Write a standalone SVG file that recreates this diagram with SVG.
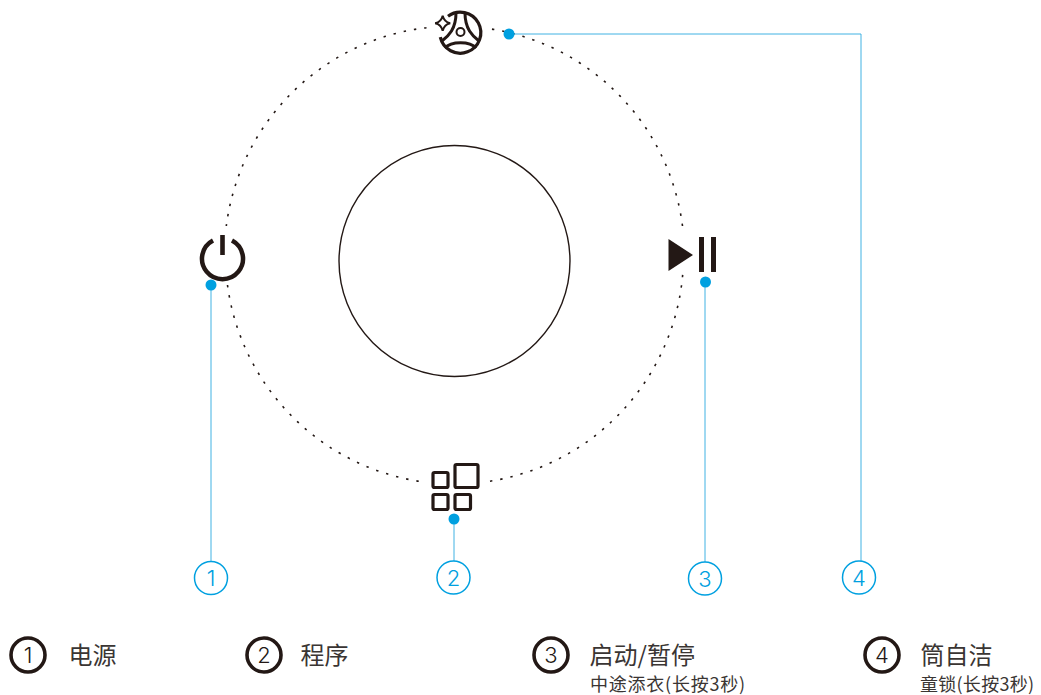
<svg xmlns="http://www.w3.org/2000/svg" width="1041" height="695" viewBox="0 0 1041 695">
<style>
.dots{fill:none;stroke:#231815;stroke-width:1.6;stroke-dasharray:2.4 8}
.k{fill:none;stroke:#231815}
.lead{fill:none;stroke:#2aa9e0;stroke-width:.9}
.dot{fill:#00a0e0}
.ring{fill:#fff;stroke:#00a0e0;stroke-width:1.5}
.num{font-family:"Inter","Noto Sans",sans-serif;font-weight:300;text-anchor:middle}
.bn{font-size:22px;fill:#00a0e0}
.ln{font-size:22px;fill:#231815}
.lr{fill:#fff;stroke:#231815;stroke-width:3.6}
.t{font-family:"Noto Sans CJK SC","Noto Sans",sans-serif;font-weight:400;fill:#3a3533;font-size:24px}
.s{font-family:"Noto Sans CJK SC","Noto Sans",sans-serif;font-weight:400;fill:#3a3533;font-size:18px}
</style>
<g id="orbit">
<path class="dots" d="M426.500 27.700A229 229 0 0 0 226.300 226"/>
<path class="dots" d="M227.500 285A229 229 0 0 0 424 482"/>
<path class="dots" d="M490 481.200A229 229 0 0 0 682.900 272"/>
<path class="dots" d="M682.500 226A229 229 0 0 0 490 28.800"/>
<circle class="k" cx="454.500" cy="261" r="115.500" stroke-width="1.400"/>
</g>
<g id="connectors">
<path class="lead" d="M211 285V561"/>
<path class="lead" d="M454 519V561"/>
<path class="lead" d="M705 282V562"/>
<path class="lead" d="M509 34H861V562"/>
</g>
<g id="icon-power">
<path class="k" stroke-width="4.500" d="M213 240.500A20.500 20.500 0 1 0 232 240.500"/>
<rect x="220.200" y="235" width="4.600" height="20" fill="#231815"/>
<circle class="dot" cx="211" cy="285" r="5.500"/>
</g>
<g id="icon-program">
<g class="k" stroke-width="3.200">
<rect x="433" y="472.500" width="15" height="15" rx="1.500"/>
<rect x="455" y="464.500" width="23" height="23" rx="1.500"/>
<rect x="433" y="494.500" width="15" height="15" rx="1.500"/>
<rect x="455" y="494.500" width="15.500" height="15" rx="1.500"/>
</g>
<circle class="dot" cx="454" cy="519" r="5.500"/>
</g>
<g id="icon-start">
<path d="M668.500 239L693 255L668.500 271Z" fill="#231815"/>
<rect x="699" y="237" width="5" height="35" fill="#231815"/>
<rect x="711" y="237" width="5" height="35" fill="#231815"/>
<circle class="dot" cx="705.500" cy="282" r="5.500"/>
</g>
<g id="icon-clean">
<path class="k" stroke-width="3.200" d="M448 16.300A20.500 20.500 0 1 1 440.300 37.200"/>
<path class="k" stroke-width="3" d="M456 13C456 20 454.500 26 451.500 31C449 35 446 38 442 41M465 13C465 20 466.500 26 469.500 31C472 35 475 38 479 41M445 48C451 41 470 41 476 48"/>
<circle class="k" stroke-width="2" cx="460.500" cy="32" r="4"/>
<path class="k" stroke-width="2" d="M442.700 15.800C443.700 20 445.700 22.300 450.200 23.300C445.700 24.300 443.700 26.800 442.700 30.800C441.700 26.800 439.700 24.300 435.200 23.300C439.700 22.300 441.700 20 442.700 15.800Z"/>
<circle class="dot" cx="509" cy="34" r="5.500"/>
</g>
<g id="badge-1"><circle class="ring" cx="211" cy="578" r="16.500"/><text class="num bn" x="211" y="586">1</text></g>
<g id="badge-2"><circle class="ring" cx="453.500" cy="577.500" r="16.500"/><text class="num bn" x="453.500" y="585.500">2</text></g>
<g id="badge-3"><circle class="ring" cx="705" cy="578.500" r="16.500"/><text class="num bn" x="705" y="586.500">3</text></g>
<g id="badge-4"><circle class="ring" cx="859" cy="577.500" r="16.500"/><text class="num bn" x="859" y="585.500">4</text></g>
<g id="legend-1"><circle class="lr" cx="28" cy="655" r="17"/><text class="num ln" x="28" y="663">1</text><text class="t" x="68.500" y="664">电源</text></g>
<g id="legend-2"><circle class="lr" cx="264" cy="655" r="17"/><text class="num ln" x="264" y="663">2</text><text class="t" x="300.500" y="664">程序</text></g>
<g id="legend-3"><circle class="lr" cx="551" cy="655" r="17"/><text class="num ln" x="551" y="663">3</text><text class="t" x="589.500" y="664">启动/暂停</text><text class="s" x="590" y="690.500" textLength="155">中途添衣(长按3秒)</text></g>
<g id="legend-4"><circle class="lr" cx="882" cy="655" r="17"/><text class="num ln" x="882" y="663">4</text><text class="t" x="920.500" y="664">筒自洁</text><text class="s" x="920" y="690.500" textLength="114">童锁(长按3秒)</text></g>
</svg>
